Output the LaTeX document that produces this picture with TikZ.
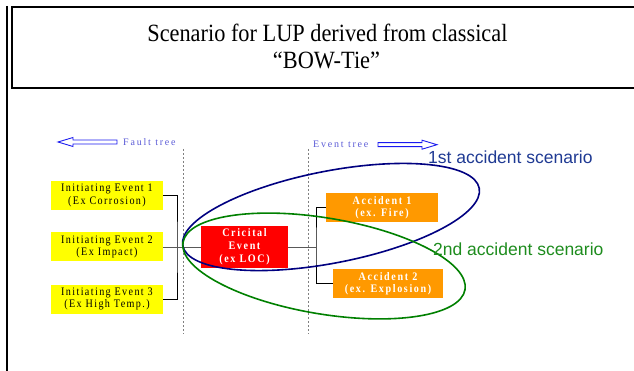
\documentclass[tikz,border=0pt]{standalone}
\usepackage{fontspec}
\setmainfont{Liberation Serif}
\newfontfamily\lsfont[LetterSpace=12,FakeStretch=0.88]{Liberation Serif}
\newfontfamily\lsbfont[LetterSpace=14,FakeStretch=0.88]{Liberation Serif Bold}
\newfontfamily\treefont[LetterSpace=18]{Liberation Serif}
\newfontfamily\titlefont[FakeStretch=0.9]{Liberation Serif}
\newfontfamily\scenfont{Liberation Sans}
\definecolor{ieyellow}{HTML}{FFFF00}
\definecolor{accorange}{HTML}{FF9900}
\definecolor{critred}{HTML}{FF0000}
\definecolor{treeblue}{HTML}{5A5AD6}
\definecolor{arrowblue}{HTML}{1A1AF0}
\definecolor{navyline}{HTML}{000080}
\definecolor{greenline}{HTML}{008000}
\definecolor{scenblue}{HTML}{1F3A93}
\definecolor{scengreen}{HTML}{1E8C1E}
\begin{document}
\begin{tikzpicture}[x=1pt,y=-1pt,
  iebox/.style={fill=ieyellow, minimum width=112pt, minimum height=29pt, inner sep=0pt, align=center,
    font=\lsfont\fontsize{11.5}{12.5}\selectfont},
  accbox/.style={fill=accorange, text=white, minimum height=29pt, inner sep=0pt, align=center,
    font=\lsbfont\fontsize{11.5}{12.5}\selectfont},
  critbox/.style={fill=critred, text=white, minimum width=87pt, minimum height=42pt, inner sep=0pt, align=center,
    font=\lsbfont\fontsize{11.5}{13}\selectfont},
  treelabel/.style={text=treeblue, inner sep=0pt, anchor=west, font=\treefont\fontsize{10}{10}\selectfont},
  scenlabel/.style={inner sep=0pt, anchor=west, font=\scenfont\fontsize{17.5}{20}\selectfont},
  titleline/.style={inner sep=0pt, anchor=base, font=\titlefont\fontsize{24.8}{27}\selectfont},
  hollowarrow/.style={draw=arrowblue, fill=white, line width=0.9pt, line join=miter},
  guide/.style={draw=gray, dash pattern=on 2pt off 2pt, line width=0.6pt},
  bracket/.style={draw=black, line width=0.9pt},
  stub/.style={draw=gray!70!black, line width=0.9pt},
  scenario/.style={line width=1.6pt}
]
\useasboundingbox (0,0) rectangle (634,371);
% frame and title box
\draw[line width=2pt] (7,6) -- (7,375);
\draw[line width=1.6pt] (640,7) -- (12,7) -- (12,88) -- (640,88);
\node[titleline] (title1) at (327.4,41.7) {Scenario for LUP derived from classical};
\node[titleline] (title2) at (326.5,68.3) {“BOW-Tie”};
% guide lines
\coordinate (gl1) at (183,149); \coordinate (gl2) at (183,334);
\coordinate (gr1) at (308,149); \coordinate (gr2) at (308,334);
\draw[guide] (gl1) -- (gl2);
\draw[guide] (gr1) -- (gr2);
% tree arrows
\draw[hollowarrow] (58,142) -- (73,137.5) -- (73,140) -- (117,140) -- (117,144) -- (73,144) -- (73,146.5) -- cycle;
\node[treelabel] (faultlbl) at (123,142) {Fault tree};
\node[treelabel] (eventlbl) at (313,144) {Event tree};
\draw[hollowarrow] (437,144.7) -- (422,140.2) -- (422,142.7) -- (378,142.7) -- (378,146.7) -- (422,146.7) -- (422,149.2) -- cycle;
% boxes
\node[iebox] (ie1) at (107,195.5) {Initiating Event 1\\(Ex Corrosion)};
\node[iebox] (ie2) at (107,247) {Initiating Event 2\\(Ex Impact)};
\node[iebox] (ie3) at (107,299) {Initiating Event 3\\(Ex High Temp.)};
\node[critbox] (crit) at (244.5,247) {Cricital\\Event\\(ex LOC)};
\node[accbox, minimum width=112pt] (acc1) at (382,207.5) {Accident 1\\(ex. Fire)};
\node[accbox, minimum width=110pt] (acc2) at (388,283.5) {Accident 2\\(ex. Explosion)};
% connectors
\coordinate (jl) at (177,247);
\coordinate (jr) at (316,247);
\draw[bracket] (ie1.east) -| (jl) |- (ie3.east);
\draw[stub] (ie2.east) -- (crit.west);
\draw[stub] (crit.east) -- (jr);
\draw[bracket] (acc1.west) -| (jr) |- (acc2.west);
% scenario ellipses
\draw[scenario, navyline, rotate around={11:(331,217)}] (331,217) ellipse [x radius=151pt, y radius=46pt];
\draw[scenario, greenline, rotate around={-9.5:(324,266)}] (324,266) ellipse [x radius=143pt, y radius=48pt];
\node[scenlabel, text=scenblue] (sc1) at (428,157) {1st accident scenario};
\node[scenlabel, text=scengreen] (sc2) at (433,249) {2nd accident scenario};
\end{tikzpicture}
\end{document}
